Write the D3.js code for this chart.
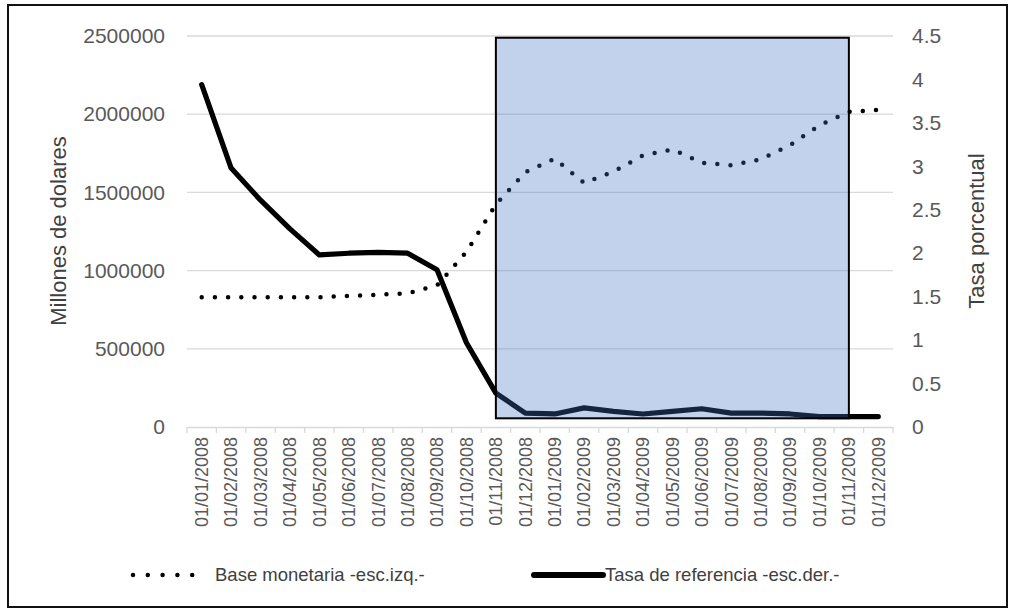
<!DOCTYPE html>
<html><head><meta charset="utf-8">
<script src="https://cdn.jsdelivr.net/npm/d3@7"></script>
<style>
body{margin:0;background:#fff}
svg{display:block;font-family:"Liberation Sans",Arial,sans-serif}
</style>
</head><body>
<svg id="chart" width="1015" height="614"></svg>
<script>
const categories = ["01/01/2008","01/02/2008","01/03/2008","01/04/2008","01/05/2008","01/06/2008",
  "01/07/2008","01/08/2008","01/09/2008","01/10/2008","01/11/2008","01/12/2008",
  "01/01/2009","01/02/2009","01/03/2009","01/04/2009","01/05/2009","01/06/2009",
  "01/07/2009","01/08/2009","01/09/2009","01/10/2009","01/11/2009","01/12/2009"];
const baseMonetaria = [830000,830000,830000,830000,830000,838000,846000,855000,905000,1120000,1423000,1629000,
  1715000,1560000,1633000,1736000,1775000,1690000,1673000,1712000,1802000,1929000,2015000,2027000];
const tasaReferencia = [3.94,2.98,2.61,2.28,1.98,2.00,2.01,2.00,1.81,0.97,0.39,0.16,
  0.15,0.22,0.18,0.15,0.18,0.21,0.16,0.16,0.15,0.12,0.12,0.12];
const leftTicks = [0,500000,1000000,1500000,2000000,2500000];
const rightTicks = [0,0.5,1,1.5,2,2.5,3,3.5,4,4.5];
const shadeCategories = ["01/11/2008","01/11/2009"];
const shadeRange = [0.1,4.48];
const seriesNames = ["Base monetaria -esc.izq.-","Tasa de referencia -esc.der.-"];
const axisTitles = ["Millones de dolares","Tasa porcentual"];

const svg = d3.select("#chart");
const L = 187, R = 893, T = 36, B = 427;
const x = d3.scaleBand().domain(categories).range([L, R]);
const yL = d3.scaleLinear().domain([0, 2500000]).range([B, T]);
const yR = d3.scaleLinear().domain([0, 4.5]).range([B, T]);
const cx = c => x(c) + x.bandwidth() / 2;

// outer border
svg.append("rect").attr("x", 8).attr("y", 5).attr("width", 999).attr("height", 602)
  .attr("fill", "#fff").attr("stroke", "#111").attr("stroke-width", 2);

// gridlines
svg.append("g").selectAll("line").data(leftTicks.filter(d => d > 0)).join("line")
  .attr("x1", L).attr("x2", R).attr("y1", d => yL(d)).attr("y2", d => yL(d))
  .attr("stroke", "#d9d9d9").attr("stroke-width", 1.3);

// left axis
const gL = svg.append("g").attr("transform", `translate(${L},0)`)
  .call(d3.axisLeft(yL).tickValues(leftTicks).tickSize(0).tickPadding(22).tickFormat(d3.format("d")));
gL.select(".domain").remove();
gL.selectAll("text").attr("font-size", 21).attr("fill", "#595959").attr("font-family", "Liberation Sans, Arial, sans-serif");

// right axis
const gR = svg.append("g").attr("transform", `translate(${R},0)`)
  .call(d3.axisRight(yR).tickValues(rightTicks).tickSize(0).tickPadding(19).tickFormat(d => String(d)));
gR.select(".domain").remove();
gR.selectAll("text").attr("font-size", 21).attr("fill", "#595959").attr("font-family", "Liberation Sans, Arial, sans-serif");

// x axis
const gX = svg.append("g").attr("transform", `translate(0,${B})`)
  .call(d3.axisBottom(x).tickSize(0).tickSizeOuter(0).tickPadding(0));
gX.select(".domain").attr("stroke", "#d9d9d9").attr("stroke-width", 1.5);
gX.selectAll("text")
  .attr("transform", "rotate(-90)")
  .attr("x", -10).attr("y", 0).attr("dy", "0.35em")
  .attr("text-anchor", "end")
  .attr("font-size", 18).attr("fill", "#595959").attr("font-family", "Liberation Sans, Arial, sans-serif");
const bounds = categories.map(c => x(c)).concat([R]);
svg.append("g").selectAll("line").data(bounds).join("line")
  .attr("x1", d => d).attr("x2", d => d).attr("y1", B).attr("y2", B + 6)
  .attr("stroke", "#d9d9d9").attr("stroke-width", 1.3);

// axis titles
svg.append("text").attr("transform", `translate(66,231) rotate(-90)`)
  .attr("text-anchor", "middle").attr("font-size", 22).attr("fill", "#404040")
  .text(axisTitles[0]);
svg.append("text").attr("transform", `translate(984,231) rotate(-90)`)
  .attr("text-anchor", "middle").attr("font-size", 22).attr("fill", "#404040")
  .text(axisTitles[1]);

// series
const lineBase = d3.line().x((d, i) => cx(categories[i])).y(d => yL(d));
const lineRate = d3.line().x((d, i) => cx(categories[i])).y(d => yR(d));
svg.append("path").datum(baseMonetaria).attr("d", lineBase)
  .attr("fill", "none").attr("stroke", "#000").attr("stroke-width", 4.5)
  .attr("stroke-linecap", "round").attr("stroke-dasharray", "0,13.2");
svg.append("path").datum(tasaReferencia).attr("d", lineRate)
  .attr("fill", "none").attr("stroke", "#000").attr("stroke-width", 5.2)
  .attr("stroke-linejoin", "round").attr("stroke-linecap", "round");

// shaded box (overlay)
svg.append("rect")
  .attr("x", cx(shadeCategories[0])).attr("y", yR(shadeRange[1]))
  .attr("width", cx(shadeCategories[1]) - cx(shadeCategories[0]))
  .attr("height", yR(shadeRange[0]) - yR(shadeRange[1]))
  .attr("fill", "#4472C4").attr("fill-opacity", 0.32)
  .attr("stroke", "#000").attr("stroke-width", 2);

// legend
const ly = 575;
svg.append("line").attr("x1", 133).attr("x2", 207).attr("y1", ly).attr("y2", ly)
  .attr("stroke", "#000").attr("stroke-width", 4.5).attr("stroke-linecap", "round")
  .attr("stroke-dasharray", "0,14.8");
svg.append("text").attr("x", 215).attr("y", ly).attr("dy", "0.35em")
  .attr("font-size", 18.5).attr("fill", "#404040").text(seriesNames[0]);
svg.append("line").attr("x1", 534).attr("x2", 603).attr("y1", ly).attr("y2", ly)
  .attr("stroke", "#000").attr("stroke-width", 6).attr("stroke-linecap", "round");
svg.append("text").attr("x", 605).attr("y", ly).attr("dy", "0.35em")
  .attr("font-size", 18.5).attr("fill", "#404040").text(seriesNames[1]);
</script>
</body></html>
